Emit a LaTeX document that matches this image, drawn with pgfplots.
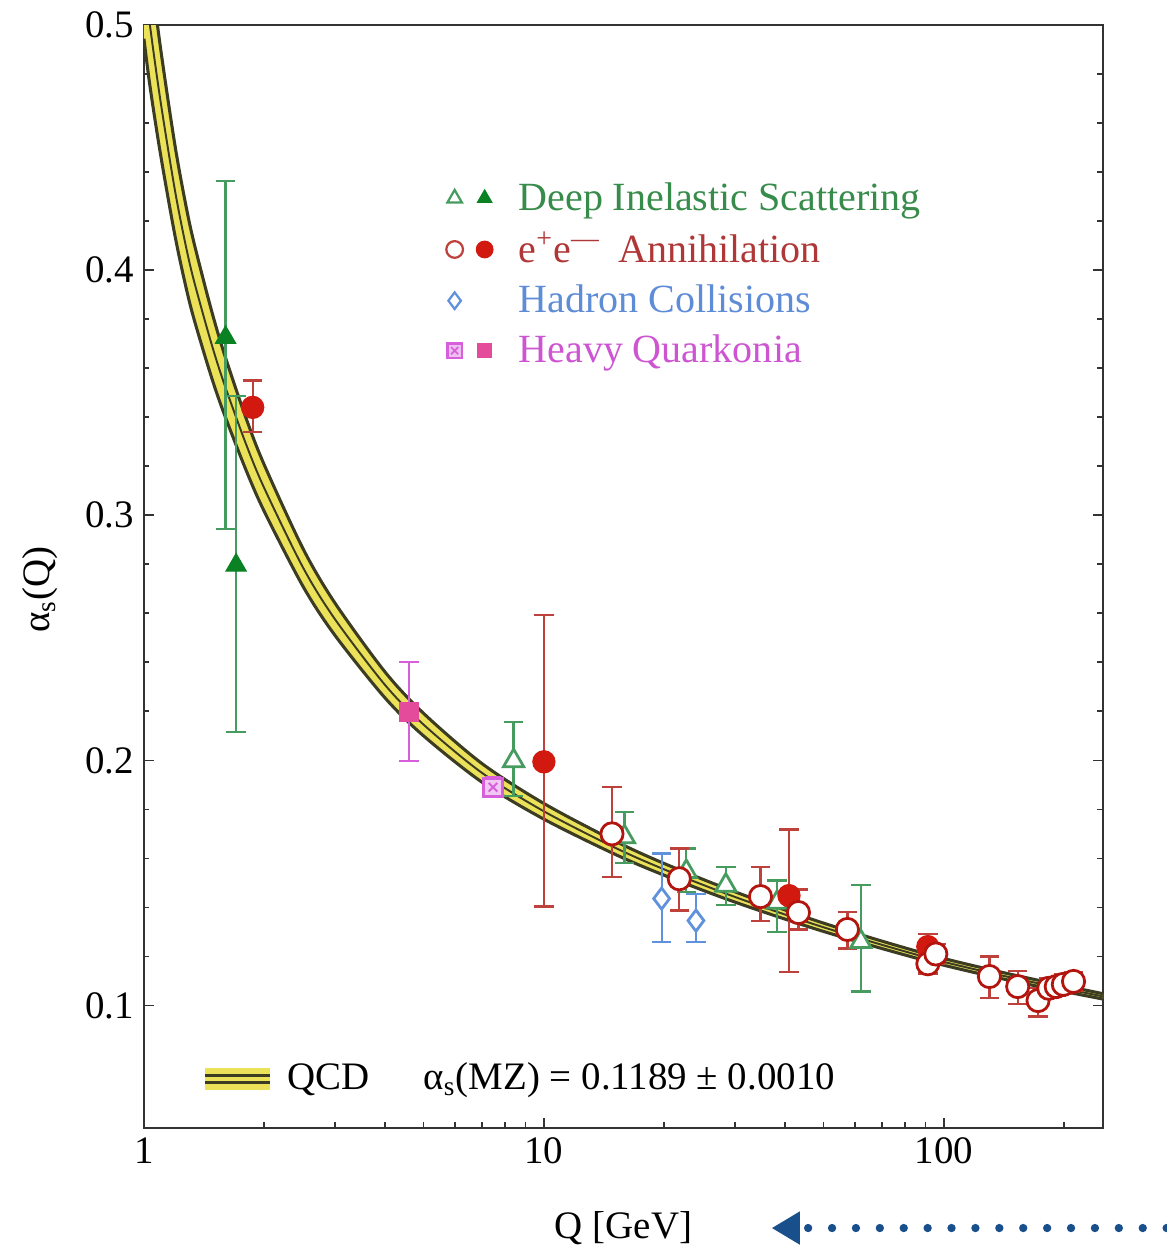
\documentclass[border=0pt]{standalone}
\usepackage{fontspec}
\setmainfont{Liberation Serif}
\usepackage{pgfplots}
\usepackage{pgfplotstable}
\pgfplotsset{compat=1.18}
\usepgfplotslibrary{fillbetween}
\usetikzlibrary{arrows.meta}

\definecolor{disline}{RGB}{70,155,95}
\definecolor{disfill}{RGB}{10,130,35}
\definecolor{distext}{RGB}{55,140,75}
\definecolor{eeline}{RGB}{190,65,60}
\definecolor{eefill}{RGB}{210,25,15}
\definecolor{eetext}{RGB}{175,55,55}
\definecolor{hadcol}{RGB}{95,145,220}
\definecolor{hadtext}{RGB}{95,140,215}
\definecolor{hqcol}{RGB}{215,95,220}
\definecolor{hqfill}{RGB}{228,75,155}
\definecolor{hqtext}{RGB}{205,85,210}
\definecolor{bandyellow}{RGB}{236,226,90}
\definecolor{bandline}{RGB}{60,60,35}
\definecolor{arrowblue}{RGB}{25,80,140}

\pgfplotstableread{
Q c up lo
1.0 0.521 0.5476 0.4944
1.035 0.500 0.5248 0.4752
1.1 0.469 0.4907 0.4473
1.2 0.431 0.4493 0.4127
1.3 0.403 0.4191 0.3869
1.4 0.383 0.3976 0.3684
1.5 0.366 0.3793 0.3527
1.6 0.352 0.3642 0.3398
1.8 0.329 0.3396 0.3184
2.0 0.311 0.3205 0.3015
2.5 0.2786 0.2863 0.2709
3.0 0.2577 0.2643 0.2511
4.0 0.2309 0.2362 0.2256
5.0 0.2146 0.2192 0.2100
7.0 0.1949 0.1987 0.1911
10 0.1792 0.1824 0.1760
15 0.1645 0.1672 0.1618
20 0.1555 0.1579 0.1531
30 0.1443 0.1464 0.1422
50 0.1319 0.1336 0.1302
91 0.1195 0.1209 0.1181
150 0.1111 0.1124 0.1098
250 0.1037 0.1048 0.1026
}\qcdband

\pgfplotstableread{
x y ep em
1.60 0.3725 0.064 0.078
1.70 0.2796 0.069 0.068
}\tabDisF

\pgfplotstableread{
x y ep em
8.4 0.1998 0.016 0.0143
15.9 0.1688 0.0102 0.0108
22.7 0.1546 0.0094 0.0082
28.5 0.1490 0.0076 0.0080
38.3 0.1420 0.0090 0.0120
62.0 0.1260 0.0230 0.0203
}\tabDisO

\pgfplotstableread{
x y ep em
1.87 0.344 0.011 0.010
10.0 0.1994 0.060 0.059
41.0 0.1448 0.027 0.031
91.2 0.1240 0.005 0.004
}\tabEeF

\pgfplotstableread{
x y ep em
14.8 0.1700 0.0190 0.0175
21.8 0.1517 0.0123 0.0130
34.8 0.1444 0.0122 0.0098
43.3 0.1379 0.0094 0.0069
57.4 0.1310 0.0070 0.0078
91.2 0.1170 0.0040 0.0040
95.5 0.1210 0.0040 0.0040
130 0.1118 0.0082 0.0088
153 0.1077 0.0063 0.0070
172 0.1020 0.0050 0.0065
183 0.1070 0.0040 0.0040
191 0.1077 0.0040 0.0040
199 0.1086 0.0040 0.0040
211 0.1098 0.0040 0.0040
}\tabEeO

\pgfplotstableread{
x y ep em
19.7 0.1436 0.0184 0.0176
24.0 0.1346 0.0110 0.0086
}\tabHad

\pgfplotstableread{
x y ep em
4.6 0.2198 0.0202 0.0200
}\tabHqF

\pgfplotstableread{
x y ep em
7.46 0.1890 0.0040 0.0040
}\tabHqO

\newcommand{\fs}{\fontsize{14}{16}\selectfont}
\newcommand{\fl}{\fontsize{14.4}{16}\selectfont}

\begin{document}
\begin{tikzpicture}
\begin{axis}[
  at={(0,0)}, anchor=south west,
  scale only axis, width=345.1pt, height=396.9pt,
  xmode=log, xmin=1, xmax=250, ymin=0.05, ymax=0.5,
  log ticks with fixed point,
  xtick={1,10,100},
  minor xtick={2,3,4,5,6,7,8,9,20,30,40,50,60,70,80,90,200},
  ytick={0.1,0.2,0.3,0.4,0.5},
  minor y tick num=4,
  xtick pos=bottom, ytick pos=both,
  tick align=inside,
  major tick length=3.6pt, minor tick length=2pt,
  every tick/.style={black!80, line width=0.6pt},
  axis line style={black!80, line width=0.9pt},
  /pgf/number format/assume math mode=true,
  yticklabel style={/pgf/number format/.cd, fixed, fixed zerofill, precision=1},
  tick label style={font=\fs},
  xlabel={Q [GeV]}, ylabel={α\textsubscript{s}(Q)},
  label style={font=\fs},
  xlabel style={at={(axis description cs:0.5,-0.0998)}, anchor=base},
  ylabel style={at={(axis description cs:-0.108,0.488)}, anchor=center},
  legend style={draw=none, fill=none, at={(axis description cs:0.306,0.868)}, anchor=north west,
    font=\fl, row sep=2.5pt},
  legend cell align=left,
]
% legend entries
\addlegendimage{legend image code/.code={
  \draw[disline, fill=white, line width=0.8pt] plot[mark=triangle*, mark size=3pt] coordinates {(0pt,0pt)};
  \draw[disfill, fill=disfill] plot[mark=triangle*, mark size=3pt] coordinates {(10.8pt,0pt)};
  \path (20.8pt,0pt);
}}
\addlegendentry{\textcolor{distext}{Deep Inelastic Scattering}}
\addlegendimage{legend image code/.code={
  \draw[eeline, fill=white, line width=0.8pt] plot[mark=*, mark size=3pt] coordinates {(0pt,0pt)};
  \draw[eefill, fill=eefill] plot[mark=*, mark size=3pt] coordinates {(10.8pt,0pt)};
  \path (20.8pt,0pt);
}}
\addlegendentry{\textcolor{eetext}{e\textsuperscript{+}e\textsuperscript{—}\hspace{0.45em}Annihilation}}
\addlegendimage{legend image code/.code={
  \draw[hadcol, fill=white, line width=0.8pt] plot[mark=diamond*, mark size=3pt] coordinates {(0pt,0pt)};
  \path (20.8pt,0pt);
}}
\addlegendentry{\textcolor{hadtext}{Hadron Collisions}}
\addlegendimage{legend image code/.code={
  \draw[hqcol, fill=hqcol!40, line width=0.8pt] plot[mark=square*, mark size=2.6pt] coordinates {(0pt,0pt)};
  \draw[hqcol, line width=0.6pt] plot[mark=x, mark size=1.8pt] coordinates {(0pt,0pt)};
  \draw[hqfill, fill=hqfill] plot[mark=square*, mark size=2.6pt] coordinates {(10.8pt,0pt)};
  \path (20.8pt,0pt);
}}
\addlegendentry{\textcolor{hqtext}{Heavy Quarkonia}}

% QCD band
\addplot[forget plot, draw=none, name path=up, smooth] table[x=Q, y=up]{\qcdband};
\addplot[forget plot, draw=none, name path=lo, smooth] table[x=Q, y=lo]{\qcdband};
\addplot[forget plot, fill=bandyellow, draw=none] fill between[of=up and lo];
\addplot[forget plot, bandline, line width=1.1pt, smooth] table[x=Q, y=up]{\qcdband};
\addplot[forget plot, bandline, line width=1.1pt, smooth] table[x=Q, y=lo]{\qcdband};
\addplot[forget plot, bandline, line width=0.7pt, smooth] table[x=Q, y=c]{\qcdband};

% DIS filled
\addplot[forget plot, only marks, mark=triangle*, mark size=4.2pt, color=disfill,
  mark options={fill=disfill, draw=disfill},
  error bars/y dir=both, error bars/y explicit,
  error bars/error bar style={disline, line width=0.8pt},
  error bars/error mark options={disline, rotate=90, mark size=3.5pt, line width=0.8pt}]
  table[x=x, y=y, y error plus=ep, y error minus=em]{\tabDisF};
% DIS open
\addplot[forget plot, only marks, mark=triangle*, mark size=4.2pt, color=disline,
  mark options={fill=white, draw=disline, line width=1pt},
  error bars/y dir=both, error bars/y explicit,
  error bars/error bar style={disline, line width=0.8pt},
  error bars/error mark options={disline, rotate=90, mark size=3.5pt, line width=0.8pt}]
  table[x=x, y=y, y error plus=ep, y error minus=em]{\tabDisO};
% e+e- filled
\addplot[forget plot, only marks, mark=*, mark size=4pt, color=eefill,
  mark options={fill=eefill, draw=eefill},
  error bars/y dir=both, error bars/y explicit,
  error bars/error bar style={eeline, line width=0.8pt},
  error bars/error mark options={eeline, rotate=90, mark size=3.5pt, line width=0.8pt}]
  table[x=x, y=y, y error plus=ep, y error minus=em]{\tabEeF};
% e+e- open
\addplot[forget plot, only marks, mark=*, mark size=4pt, color=eeline,
  mark options={fill=white, draw=eefill!85!black, line width=1pt},
  error bars/y dir=both, error bars/y explicit,
  error bars/error bar style={eeline, line width=0.8pt},
  error bars/error mark options={eeline, rotate=90, mark size=3.5pt, line width=0.8pt}]
  table[x=x, y=y, y error plus=ep, y error minus=em]{\tabEeO};
% hadron
\addplot[forget plot, only marks, mark=diamond*, mark size=3.8pt, color=hadcol,
  mark options={fill=white, draw=hadcol, line width=1pt},
  error bars/y dir=both, error bars/y explicit,
  error bars/error bar style={hadcol, line width=0.8pt},
  error bars/error mark options={hadcol, rotate=90, mark size=3.5pt, line width=0.8pt}]
  table[x=x, y=y, y error plus=ep, y error minus=em]{\tabHad};
% heavy quarkonia filled
\addplot[forget plot, only marks, mark=square*, mark size=3.5pt, color=hqfill,
  mark options={fill=hqfill, draw=hqfill},
  error bars/y dir=both, error bars/y explicit,
  error bars/error bar style={hqcol, line width=0.8pt},
  error bars/error mark options={hqcol, rotate=90, mark size=3.5pt, line width=0.8pt}]
  table[x=x, y=y, y error plus=ep, y error minus=em]{\tabHqF};
% heavy quarkonia open
\addplot[forget plot, only marks, mark=square*, mark size=3.3pt, color=hqcol,
  mark options={fill=hqcol!35, draw=hqcol, line width=1pt},
  error bars/y dir=both, error bars/y explicit,
  error bars/error bar style={hqcol, line width=0.8pt},
  error bars/error mark options={hqcol, rotate=90, mark size=3pt, line width=0.8pt}]
  table[x=x, y=y, y error plus=ep, y error minus=em]{\tabHqO};
\addplot[forget plot, only marks, mark=x, mark size=2.2pt, color=hqcol, mark options={line width=0.7pt}]
  table[x=x, y=y]{\tabHqO};

% QCD key
\fill[bandyellow] (axis description cs:0.0635,0.0345) rectangle (axis description cs:0.131,0.0544);
\draw[bandline, line width=1pt] (axis description cs:0.0635,0.0411) -- (axis description cs:0.131,0.0411);
\draw[bandline, line width=1pt] (axis description cs:0.0635,0.0478) -- (axis description cs:0.131,0.0478);
\node[anchor=west, inner sep=0pt, font=\fs] at (axis description cs:0.149,0.0436) {QCD};
\node[anchor=west, inner sep=0pt, font=\fs] at (axis description cs:0.291,0.0436) {α\textsubscript{s}(MZ) = 0.1189 ± 0.0010};
\end{axis}
% annotation arrow
\draw[arrowblue, line width=3pt, line cap=round, dash pattern=on 0pt off 8.6pt] (239pt,-36pt) -- (370pt,-36pt);
\fill[arrowblue] (226pt,-36pt) -- (236pt,-30pt) -- (236pt,-42pt) -- cycle;
\pgfresetboundingbox
\path (-51.8pt,-43.9pt) rectangle (368.1pt,405.9pt);
\end{tikzpicture}
\end{document}
